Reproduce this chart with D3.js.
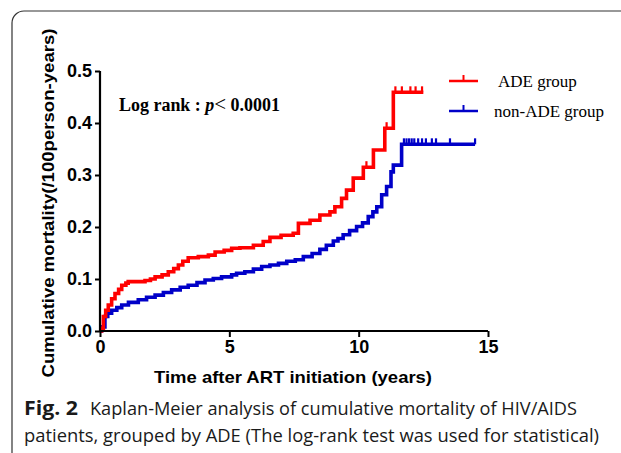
<!DOCTYPE html>
<html>
<head>
<meta charset="utf-8">
<script src="https://cdn.jsdelivr.net/npm/d3@7"></script>
<style>
  html, body { margin: 0; padding: 0; background: #fff; }
  svg { display: block; }
</style>
</head>
<body>
<svg id="chart" width="621" height="453"></svg>
<script>
// ---- data ----
const xTicks = [0, 5, 10, 15];
const yTicks = [0.0, 0.1, 0.2, 0.3, 0.4, 0.5];

const seriesNames = ["ADE group", "non-ADE group"];

const adeTime = [0, 0.06, 0.13, 0.22, 0.32, 0.45, 0.58, 0.72, 0.84, 1.0, 1.09, 1.74, 1.95, 2.13, 2.4, 2.64, 2.85, 3.03, 3.2, 3.41, 3.8, 4.19, 4.45, 4.8, 5.09, 5.41, 5.93, 6.31, 6.57, 7.0, 7.47, 7.67, 8.12, 8.5, 8.89, 9.08, 9.34, 9.53, 9.79, 10.18, 10.57, 11.01, 11.34, 12.5];
const adeValue = [0, 0.005, 0.028, 0.04, 0.05, 0.062, 0.072, 0.08, 0.088, 0.092, 0.095, 0.097, 0.1, 0.104, 0.108, 0.114, 0.12, 0.127, 0.134, 0.141, 0.143, 0.146, 0.152, 0.155, 0.159, 0.16, 0.165, 0.172, 0.18, 0.184, 0.188, 0.207, 0.213, 0.223, 0.229, 0.239, 0.255, 0.271, 0.294, 0.315, 0.348, 0.39, 0.459, 0.459];
const adeCensor = [10.3, 11.08, 11.42, 11.67, 12.0, 12.2, 12.45];

const nonAdeTime = [0, 0.06, 0.19, 0.3, 0.45, 0.65, 0.84, 1.1, 1.48, 1.8, 2.13, 2.45, 2.77, 3.1, 3.41, 3.75, 4.06, 4.38, 4.7, 5.09, 5.28, 5.6, 5.93, 6.25, 6.57, 6.9, 7.22, 7.55, 7.86, 8.2, 8.5, 8.75, 9.02, 9.2, 9.4, 9.65, 9.92, 10.15, 10.37, 10.55, 10.7, 10.89, 11.08, 11.25, 11.34, 11.66, 14.5];
const nonAdeValue = [0, 0.008, 0.028, 0.034, 0.04, 0.045, 0.05, 0.055, 0.06, 0.065, 0.069, 0.074, 0.079, 0.084, 0.088, 0.093, 0.098, 0.101, 0.104, 0.108, 0.111, 0.114, 0.119, 0.124, 0.127, 0.130, 0.134, 0.137, 0.143, 0.149, 0.157, 0.165, 0.173, 0.178, 0.185, 0.193, 0.201, 0.208, 0.220, 0.229, 0.239, 0.262, 0.278, 0.306, 0.319, 0.359, 0.359];
const nonAdeCensor = [11.75, 11.85, 11.95, 12.05, 12.15, 12.3, 12.45, 12.6, 12.83, 12.99, 13.53, 14.5];

const colors = ["#ff0000", "#0000c8"];

// ---- layout ----
const svg = d3.select("#chart");
const x = d3.scaleLinear().domain([0, 15]).range([100, 488]);
const y = d3.scaleLinear().domain([0, 0.5]).range([331, 71]);

// frame with rounded corner
svg.append("path")
  .attr("d", "M12,470 V23 A12,12 0 0 1 24,11 H640")
  .attr("fill", "none").attr("stroke", "#333").attr("stroke-width", 1.2);

const series = [
  {name: seriesNames[0], t: adeTime, v: adeValue, c: adeCensor, color: colors[0]},
  {name: seriesNames[1], t: nonAdeTime, v: nonAdeValue, c: nonAdeCensor, color: colors[1]}
];

function valueAt(s, tt) {
  let val = 0;
  for (let i = 0; i < s.t.length; i++) if (s.t[i] <= tt) val = s.v[i];
  return val;
}

const line = d3.line().x(d => x(d[0])).y(d => y(d[1])).curve(d3.curveStepAfter);

// draw blue first, then red on top
[series[1], series[0]].forEach(s => {
  const pts = s.t.map((tt, i) => [tt, s.v[i]]);
  svg.append("path").datum(pts)
    .attr("d", line)
    .attr("fill", "none")
    .attr("stroke", s.color)
    .attr("stroke-width", 3.6)
    .attr("stroke-linejoin", "miter");
  svg.append("g").selectAll("line").data(s.c).join("line")
    .attr("x1", d => x(d)).attr("x2", d => x(d))
    .attr("y1", d => y(valueAt(s, d)))
    .attr("y2", d => y(valueAt(s, d)) - 6)
    .attr("stroke", s.color).attr("stroke-width", 2.2);
});

// axes
const fontSans = "'Liberation Sans', Arial, Helvetica, sans-serif";
const xAxis = svg.append("g").attr("transform", "translate(0,331)")
  .call(d3.axisBottom(x).tickValues(xTicks).tickFormat(d3.format("d")).tickSize(6).tickPadding(3));
const yAxis = svg.append("g").attr("transform", "translate(100,0)")
  .call(d3.axisLeft(y).tickValues(yTicks).tickFormat(d3.format(".1f")).tickSize(5).tickPadding(3));
[xAxis, yAxis].forEach(a => {
  a.select(".domain").attr("stroke", "#000").attr("stroke-width", 2.2);
  a.selectAll(".tick line").attr("stroke", "#000").attr("stroke-width", 2);
  a.selectAll("text").attr("font-family", fontSans).attr("font-weight", "bold")
    .attr("font-size", 18).attr("fill", "#000");
});
xAxis.select(".domain").attr("d", "M100,0H488");
yAxis.select(".domain").attr("d", "M0,71V331");

// axis titles
svg.append("text")
  .attr("x", 293).attr("y", 383)
  .attr("text-anchor", "middle")
  .attr("font-family", fontSans).attr("font-weight", "bold").attr("font-size", 17)
  .attr("textLength", 278).attr("lengthAdjust", "spacingAndGlyphs")
  .text("Time after ART initiation (years)");

svg.append("text")
  .attr("transform", "translate(54,203) rotate(-90)")
  .attr("text-anchor", "middle")
  .attr("font-family", fontSans).attr("font-weight", "bold").attr("font-size", 17)
  .attr("textLength", 349).attr("lengthAdjust", "spacingAndGlyphs")
  .text("Cumulative mortality(/100person-years)");

// log rank annotation
const serif = "'Liberation Serif', 'Times New Roman', Times, serif";
const lr = svg.append("text").attr("x", 119).attr("y", 111)
  .attr("font-family", serif).attr("font-size", 18).attr("font-weight", "bold").attr("fill", "#000")
  .attr("textLength", 161).attr("lengthAdjust", "spacingAndGlyphs");
lr.append("tspan").text("Log rank : ");
lr.append("tspan").attr("font-style", "italic").text("p");
lr.append("tspan").attr("font-weight", "normal").attr("font-size", 21).text("<");
lr.append("tspan").text(" 0.0001");

// legend
const legendY = [81, 111];
const legendTextX = [498, 494];
const legendBase = [87, 117];
series.forEach((s, i) => {
  svg.append("line").attr("x1", 449).attr("x2", 478)
    .attr("y1", legendY[i]).attr("y2", legendY[i])
    .attr("stroke", s.color).attr("stroke-width", 2.5);
  svg.append("line").attr("x1", 463.5).attr("x2", 463.5)
    .attr("y1", legendY[i]).attr("y2", legendY[i] - 6)
    .attr("stroke", s.color).attr("stroke-width", 2);
  svg.append("text").attr("x", legendTextX[i]).attr("y", legendBase[i])
    .attr("font-family", serif).attr("font-size", 17).attr("fill", "#000")
    .text(s.name);
});

// caption
const capFont = "'Open Sans', 'Noto Sans', sans-serif";
const cap1 = svg.append("text").attr("x", 24).attr("y", 415)
  .attr("font-family", capFont).attr("font-size", 19).attr("fill", "#1a1a1a");
cap1.append("tspan").attr("font-weight", "bold").attr("textLength", 54).attr("lengthAdjust", "spacingAndGlyphs").text("Fig. 2");
cap1.append("tspan").attr("x", 90).attr("font-weight", 400)
  .attr("textLength", 487).attr("lengthAdjust", "spacingAndGlyphs")
  .text("Kaplan-Meier analysis of cumulative mortality of HIV/AIDS");
svg.append("text").attr("x", 24).attr("y", 442)
  .attr("font-family", capFont).attr("font-size", 19).attr("font-weight", 400).attr("fill", "#1a1a1a")
  .attr("textLength", 575).attr("lengthAdjust", "spacingAndGlyphs")
  .text("patients, grouped by ADE (The log-rank test was used for statistical)");
</script>
</body>
</html>
